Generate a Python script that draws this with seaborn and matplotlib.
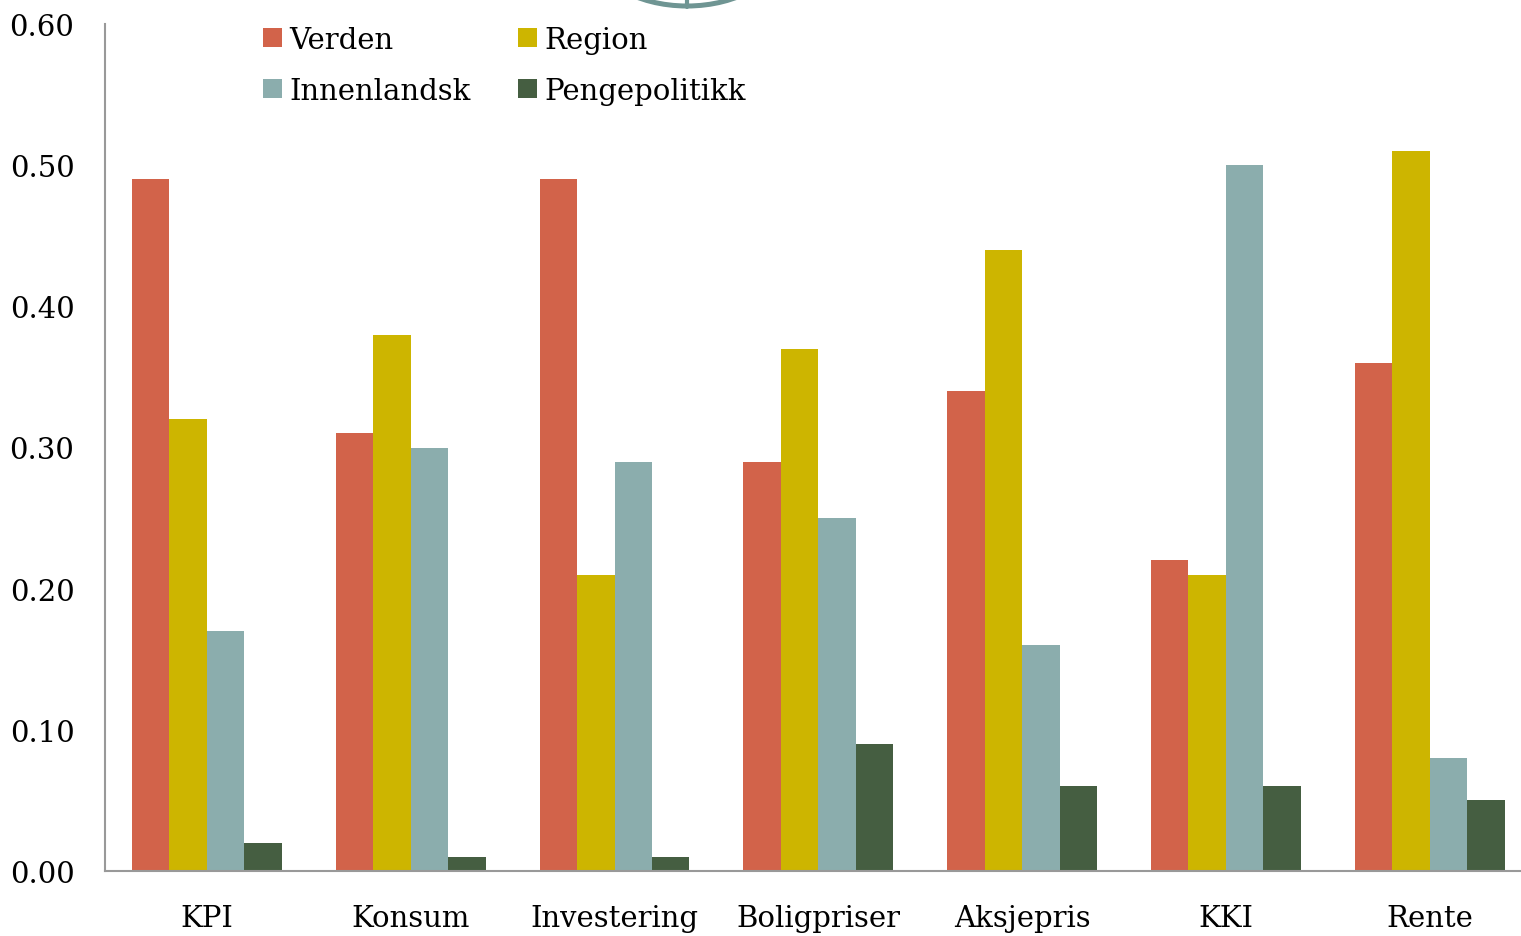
import matplotlib
matplotlib.use("Agg")
import matplotlib.pyplot as plt
import seaborn as sns
import pandas as pd
from matplotlib.patches import Circle
from matplotlib.lines import Line2D

categories = ["KPI", "Konsum", "Investering", "Boligpriser", "Aksjepris", "KKI", "Rente"]
series = ["Verden", "Region", "Innenlandsk", "Pengepolitikk"]
verden = [0.49, 0.31, 0.49, 0.29, 0.34, 0.22, 0.36]
region = [0.32, 0.38, 0.21, 0.37, 0.44, 0.21, 0.51]
innenlandsk = [0.17, 0.30, 0.29, 0.25, 0.16, 0.50, 0.08]
pengepolitikk = [0.02, 0.01, 0.01, 0.09, 0.06, 0.06, 0.05]
y_ticks = [0.0, 0.1, 0.2, 0.3, 0.4, 0.5, 0.6]
colors = ["#D2634A", "#CDB500", "#8BADAD", "#455E41"]

rows = []
for name, vals in zip(series, [verden, region, innenlandsk, pengepolitikk]):
    for cat, v in zip(categories, vals):
        rows.append({"Kategori": cat, "Faktor": name, "Verdi": v})
df = pd.DataFrame(rows)

sns.set_style("white")
plt.rcParams["font.family"] = ["DejaVu Serif"]
plt.rcParams["text.color"] = "black"
plt.rcParams["xtick.labelcolor"] = "black"
plt.rcParams["ytick.labelcolor"] = "black"

fig = plt.figure(figsize=(15.21, 9.37), dpi=100)
W, H = 1521, 937
x0, x1 = 105, 105 + 7 * 203.8
y0, y1 = 872, 25
ax = fig.add_axes([x0 / W, 1 - y0 / H, (x1 - x0) / W, (y0 - y1) / H])

sns.barplot(data=df, x="Kategori", y="Verdi", hue="Faktor", order=categories,
            hue_order=series, palette=colors, width=0.735, saturation=1,
            edgecolor="none", linewidth=0, ax=ax)

ax.set_xlim(-0.5, len(categories) - 0.5)
ax.set_ylim(0, 0.6)
ax.set_yticks(y_ticks)
ax.set_yticklabels([f"{t:.2f}" for t in y_ticks], fontsize=21)
ax.set_xticks([i - 0.5 for i in range(len(categories) + 1)], minor=False)
ax.set_xticklabels([])
ax.set_xticks(range(len(categories)), minor=True)
ax.set_xticklabels(categories, minor=True, fontsize=21)
ax.tick_params(axis="x", which="major", direction="out", length=9, width=1.5, color="#999999")
ax.tick_params(axis="x", which="minor", length=0, pad=24)
ax.tick_params(axis="y", direction="out", length=8, width=1.5, color="#999999", pad=14)
ax.set_xlabel("")
ax.set_ylabel("")
for s in ["top", "right"]:
    ax.spines[s].set_visible(False)
for s in ["left", "bottom"]:
    ax.spines[s].set_color("#999999")
    ax.spines[s].set_linewidth(1.5)

# legend laid out row by row: Verden, Region / Innenlandsk, Pengepolitikk
handles, labels = ax.get_legend_handles_labels()
lookup = dict(zip(labels, handles))
order = ["Verden", "Innenlandsk", "Region", "Pengepolitikk"]
leg = ax.legend([lookup[k] for k in order], order, ncol=2, loc="upper left",
                bbox_to_anchor=((251 - x0) / (x1 - x0), 1.012),
                frameon=False, fontsize=21, handlelength=0.65, handleheight=0.65,
                handletextpad=0.25, columnspacing=1.65, labelspacing=0.8,
                borderaxespad=0)

# decorative ring at the top edge
ring = Circle((687 / W, 1 + 51 / H), radius=58 / H, transform=fig.transFigure,
              fill=False, edgecolor="#6F9593", linewidth=3.6, clip_on=False)
fig.patches.append(ring)
fig.lines.append(Line2D([687 / W, 687 / W], [1, 1 - 8 / H], transform=fig.transFigure,
                        color="#6F9593", linewidth=3))

fig.savefig("out.png", dpi=100)
